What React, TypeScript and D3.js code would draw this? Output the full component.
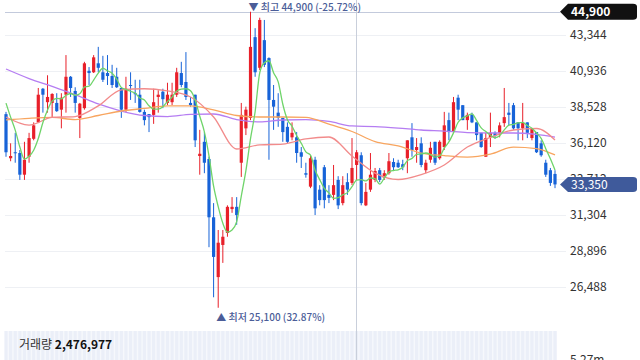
import React from 'react';
import * as d3 from 'd3';

// ---- data ----
const opens = [38050,35100,35500,35450,34000,35200,36400,37500,39750,38850,
38800,38800,38350,39350,40550,39600,37800,38450,40950,40850,
41450,40850,40800,40600,40550,39800,38350,40000,39450,39350,
38200,38050,38000,39200,39550,38800,38850,39350,40800,40200,
38800,39350,35250,36200,35050,31150,27150,29300,30100,31700,
31850,34800,37100,37800,43200,41150,43000,41800,39000,38150,
37800,37200,36500,36500,35500,34100,33200,35000,33000,34500,
32650,32650,33650,32100,33500,33450,34650,35300,31950,33000,
33650,34300,33800,34100,34850,34800,34700,35100,36500,35650,
36100,34300,35000,36200,35100,35850,37650,36850,39150,38650,
37650,38000,37500,36800,35200,36500,36800,36800,37450,38150,
38650,37500,37100,37500,36450,36850,36100,34800,34300,34050];

const highs = [38200,36100,36800,35650,36200,36800,37500,39800,39800,40650,
39450,39450,39450,42000,40600,39850,38800,41550,41200,42000,
42550,41950,42000,41350,41150,39800,40550,40850,40350,40350,
38350,38050,39750,39650,39750,40150,40150,41150,41550,42200,
39200,39350,37000,36850,35200,32100,30300,30300,31950,32500,
32500,38800,38550,44900,43800,44500,44350,41850,40000,39450,
37800,37500,37500,36850,35850,34800,35300,35200,33300,34650,
33300,34650,33900,33900,34100,36450,35650,35500,33450,35450,
34450,34450,34300,35450,35100,35000,35000,36300,37450,36450,
36500,35000,36200,36200,36300,38200,38150,39200,39350,38650,
38150,38150,37500,36800,36800,38150,36900,37500,39800,38800,
38800,37500,38800,37500,37100,36850,36300,35000,34450,34300];

const lows = [35200,34900,34800,33650,33650,34800,36300,37450,38150,38150,
37800,38200,37100,38150,39200,38150,36450,38350,40000,40800,
40850,40200,40000,39800,39800,37800,38200,39000,38800,38150,
37300,36850,37400,38150,38450,38650,38650,39200,39850,39000,
38550,35850,34000,34100,29150,25800,25100,28100,29850,31450,
30650,33850,36650,37650,40550,41000,41200,35000,37000,37200,
36200,36100,36300,34800,34450,33800,33100,31300,31950,31750,
32100,32300,31700,31950,32650,33300,33650,31950,31900,32850,
33500,33500,33650,34000,34300,34450,34300,34100,35200,34800,
34500,34100,34800,34650,35000,35650,36300,36800,37650,37650,
37000,37450,36300,35800,35200,35850,36400,36500,37200,37300,
37000,36300,36300,36450,36300,35450,35200,33850,33250,33100];

const closes = [35500,35250,35450,34000,35000,36450,37300,39350,39350,39200,
39400,38250,39150,40550,39800,38800,38750,41450,40800,41850,
41150,40350,40600,40000,39850,38350,39750,39950,39400,38200,
37650,37850,38850,39350,39050,39350,39350,40850,40000,39200,
38650,36300,35400,34800,31150,28500,29450,29850,31850,31850,
31300,38000,38350,42550,40850,44350,41350,39000,38550,37800,
36850,36200,36800,35450,35200,34000,35100,31750,32300,32300,
32450,33300,31950,33300,33000,34450,35500,32100,32850,34000,
34250,33650,34100,34900,34500,34500,34500,36300,35650,35850,
34650,34800,35800,34800,36200,37300,36850,38850,38350,37650,
38000,37500,36650,35850,36450,36800,36600,37300,37850,38000,
37100,37100,37450,36800,37100,35500,35300,34000,33450,33350];

// closes of the 4 sessions before the visible window (for the 5-day average)
const priorCloses = [39950, 39800, 39650, 39050];

// longer moving averages, sampled at these candle indices
const maIndex = [0,5,10,15,20,25,30,35,40,45,50,55,60,65,70,75,80,85,90,95,100,105,110,115,119];
const ma20 = [37860,37320,37830,37890,38600,39680,39750,39600,39200,37860,35720,35990,36050,36390,36520,35250,34110,33680,34010,34650,35850,36490,36990,37090,36320];
const ma60 = [37660,37770,37830,37690,37960,38260,38430,38600,38600,38330,37960,37860,37860,37830,37390,36890,36220,35920,35450,35280,35180,35380,35850,35750,35320];
const ma120 = [41070,40430,39900,39360,38730,38260,37960,37890,38030,38060,37690,37530,37660,37690,37560,37260,37220,37120,36990,36920,36820,36790,36790,36690,36520];

const priceTicks = [43344, 40936, 38528, 36120, 33712, 31304, 28896, 26488];
const highPrice = 44900;
const lowPrice = 25100;
const lastPrice = 33350;
const volumeText = '2,476,977';
const volumeMax = '5.27m';

const RED = '#e8202a';
const BLUE = '#1763d8';
const FONT = "'Noto Sans CJK KR', 'Noto Sans', sans-serif";
const fmt = d3.format(',');

export default function App() {
  const n = closes.length;
  const x = d3.scaleLinear().domain([0, n - 1]).range([6, 555]);
  const y = d3.scaleLinear().domain([26488, 43344]).range([287, 35]);

  const all = [...priorCloses, ...closes];
  const ma5 = closes.map((_, i) => d3.mean(all.slice(i, i + 5)) as number);

  const line = d3.line<[number, number]>()
    .x(d => x(d[0]))
    .y(d => y(d[1]))
    .curve(d3.curveMonotoneX);

  const ma5Path = line(ma5.map((v, i) => [i, v] as [number, number])) || '';
  const sampled = (arr: number[]) => line(arr.map((v, k) => [maIndex[k], v] as [number, number])) || '';

  const hiIdx = highs.indexOf(highPrice);
  const loIdx = lows.indexOf(lowPrice);
  const hiPct = ((lastPrice / highPrice - 1) * 100).toFixed(2);
  const loPct = ((lastPrice / lowPrice - 1) * 100).toFixed(2);

  const labelBox = (cy: number, h: number) => {
    const t = cy - h / 2, b = cy + h / 2;
    return `M560,${cy} L568,${t} H633 Q637,${t} 637,${t + 3} V${b - 3} Q637,${b} 633,${b} H568 Z`;
  };

  const hiY = y(highPrice);
  const lastY = y(lastPrice);

  return (
    <svg width={640} height={360} style={{ position: 'absolute', left: 0, top: 0, background: '#fff' }}
      fontFamily={FONT}>
      {/* grid */}
      {priceTicks.map(t => (
        <line key={t} x1={5} x2={566} y1={Math.round(y(t)) + 0.5} y2={Math.round(y(t)) + 0.5} stroke="#eef0f4" strokeWidth={1} />
      ))}
      {/* volume pane */}
      <rect x={5} y={331} width={552} height={29} fill="#f6f8fc" />
      {closes.map((_, i) => (
        <rect key={'v' + i} x={x(i) - 1.6} y={331} width={3.2} height={29} fill="#ebeff8" />
      ))}
      {/* crosshair */}
      <line x1={356.5} x2={356.5} y1={0} y2={360} stroke="#c9cfdb" strokeWidth={1} />
      {/* high line */}
      <line x1={5} x2={560} y1={Math.round(hiY) + 0.5} y2={Math.round(hiY) + 0.5} stroke="#c3cadc" strokeWidth={1} />

      {/* candles */}
      {closes.map((c, i) => {
        const o = opens[i];
        const up = c >= o;
        const col = up ? RED : BLUE;
        const top = y(Math.max(o, c));
        const bot = y(Math.min(o, c));
        return (
          <g key={'c' + i}>
            <line x1={x(i)} x2={x(i)} y1={y(highs[i])} y2={y(lows[i])} stroke={col} strokeWidth={1} />
            <rect x={x(i) - 1.6} y={top} width={3.2} height={Math.max(1, bot - top)} fill={col} />
          </g>
        );
      })}

      {/* moving averages */}
      <path d={sampled(ma120)} fill="none" stroke="#b57df2" strokeWidth={1.3} />
      <path d={sampled(ma60)} fill="none" stroke="#f8a55f" strokeWidth={1.3} />
      <path d={sampled(ma20)} fill="none" stroke="#f28b8b" strokeWidth={1.3} />
      <path d={ma5Path} fill="none" stroke="#6fd46a" strokeWidth={1.3} />

      {/* high / low annotations */}
      <text x={x(hiIdx) - 2} y={11} fontSize={10} fontWeight={500} fill="#4b5d98">
        ▼ 최고 {fmt(highPrice)} ({hiPct}%)
      </text>
      <text x={x(loIdx) - 2} y={y(lowPrice) + 13} fontSize={10} fontWeight={500} fill="#4b5d98">
        ▲ 최저 {fmt(lowPrice)} ({loPct}%)
      </text>

      {/* axis labels */}
      {priceTicks.map(t => (
        <text key={'t' + t} x={570} y={y(t) + 4} fontSize={12} fill="#333">{fmt(t)}</text>
      ))}

      {/* price tags */}
      <path d={labelBox(hiY, 16)} fill="#111" />
      <text x={571} y={hiY + 4.5} fontSize={12} fontWeight="bold" fill="#fff">{fmt(highPrice)}</text>
      <path d={labelBox(lastY, 15)} fill="#3f5a9b" />
      <text x={571} y={lastY + 4.5} fontSize={12} fill="#fff">{fmt(lastPrice)}</text>

      {/* volume labels */}
      <text x={19} y={349} fontSize={12} fill="#333">
        거래량 <tspan fontWeight="bold" fill="#111">{volumeText}</tspan>
      </text>
      <text x={570} y={364} fontSize={12} fill="#333">{volumeMax}</text>
    </svg>
  );
}
